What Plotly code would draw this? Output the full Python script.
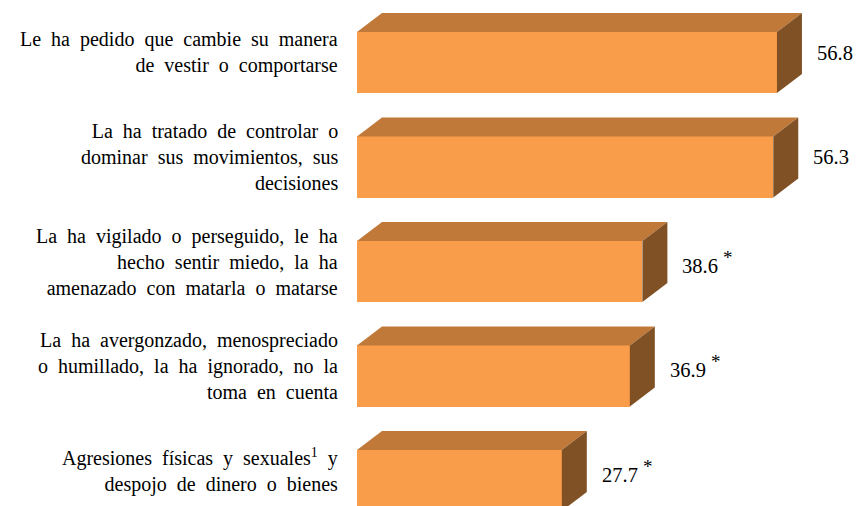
import plotly.graph_objects as go

categories = [
    "Le ha pedido que cambie su manera<br>de vestir o comportarse",
    "La ha tratado de controlar o<br>dominar sus movimientos, sus<br>decisiones",
    "La ha vigilado o perseguido, le ha<br>hecho sentir miedo, la ha<br>amenazado con matarla o matarse",
    "La ha avergonzado, menospreciado<br>o humillado, la ha ignorado, no la<br>toma en cuenta",
    "Agresiones físicas y sexuales<sup>1</sup> y<br>despojo de dinero o bienes",
]
values = [56.8, 56.3, 38.6, 36.9, 27.7]
significant = [False, False, True, True, True]

FRONT = "#FA9D4A"
TOP = "#C1793A"
SIDE = "#805124"
FONT = "Liberation Serif, Times New Roman, serif"

bar_w = 0.584
dx = 3.38      # depth in x units
dy = 0.182     # depth in y units

pos = list(range(len(values)))

fig = go.Figure()
fig.add_trace(go.Bar(
    x=values, y=pos, orientation="h", width=bar_w,
    marker=dict(color=FRONT, line=dict(width=0)),
    hoverinfo="skip", showlegend=False,
))

for k, v in zip(pos, values):
    top = k - bar_w / 2
    bot = k + bar_w / 2
    # top face
    fig.add_trace(go.Scatter(
        x=[0, v, v + dx, dx, 0],
        y=[top, top, top - dy, top - dy, top],
        mode="lines", fill="toself", fillcolor=TOP,
        line=dict(width=0, color=TOP), hoverinfo="skip", showlegend=False,
    ))
    # side face
    fig.add_trace(go.Scatter(
        x=[v, v + dx, v + dx, v, v],
        y=[top, top - dy, bot - dy, bot, top],
        mode="lines", fill="toself", fillcolor=SIDE,
        line=dict(width=0, color=SIDE), hoverinfo="skip", showlegend=False,
    ))


def widen(s):
    # wide word spacing like the justified original
    return s.replace(" ", "\u00a0 ")


annotations = []
for k, (cat, v, sig) in enumerate(zip(categories, values, significant)):
    annotations.append(dict(
        xref="paper", yref="y", x=0, y=k - dy / 2,
        xanchor="right", yanchor="middle", xshift=-17,
        text=widen(cat), align="right", showarrow=False,
        font=dict(family=FONT, size=20, color="#000000"),
    ))
    label = f"{v:.1f}" + ("\u00a0<sup><span style='font-size:19px'>*</span></sup>" if sig else "")
    annotations.append(dict(
        xref="x", yref="y", x=v + dx, y=k - dy / 2,
        xanchor="left", yanchor="middle", xshift=13,
        text=label, align="left", showarrow=False,
        font=dict(family=FONT, size=20.5, color="#000000"),
    ))

fig.update_layout(
    width=856, height=506,
    margin=dict(l=357, r=0, t=0, b=0),
    paper_bgcolor="white", plot_bgcolor="white",
    font=dict(family=FONT),
    xaxis=dict(range=[0, 67.49], visible=False, fixedrange=True),
    yaxis=dict(range=[4.244, -0.598], visible=False, fixedrange=True),
    annotations=annotations,
    bargap=0,
)

fig.write_html(
    "out.html",
    config={"displayModeBar": False, "staticPlot": True},
    post_script="document.body.style.margin='0';document.body.style.overflow='hidden';",
)
